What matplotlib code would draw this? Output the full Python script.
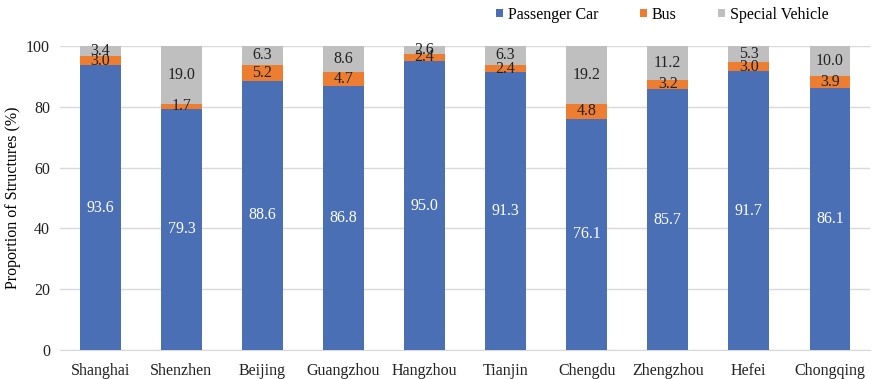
import matplotlib.pyplot as plt
import numpy as np

plt.rcParams['font.family'] = ['Liberation Serif', 'DejaVu Serif']

cities = ["Shanghai", "Shenzhen", "Beijing", "Guangzhou", "Hangzhou",
          "Tianjin", "Chengdu", "Zhengzhou", "Hefei", "Chongqing"]
passenger = [93.6, 79.3, 88.6, 86.8, 95.0, 91.3, 76.1, 85.7, 91.7, 86.1]
bus = [3.0, 1.7, 5.2, 4.7, 2.4, 2.4, 4.8, 3.2, 3.0, 3.9]
special = [3.4, 19.0, 6.3, 8.6, 2.6, 6.3, 19.2, 11.2, 5.3, 10.0]

series = [("Passenger Car", passenger, "#4A6FB5"),
          ("Bus", bus, "#ED7D31"),
          ("Special Vehicle", special, "#BFBFBF")]

fig = plt.figure(figsize=(8.8, 3.79), dpi=100)
ax = fig.add_axes([0.068, 0.0765, 0.921, 0.8025])

x = np.arange(len(cities))
bottom = np.zeros(len(cities))
for name, vals, col in series:
    vals = np.array(vals)
    ax.bar(x, vals, 0.5, bottom=bottom, color=col, label=name, zorder=3)
    for xi, b, v in zip(x, bottom, vals):
        c = "white" if name == "Passenger Car" else "#222222"
        ax.text(xi, b + v / 2, f"{v:.1f}", ha="center", va="center",
                fontsize=11.5, color=c, zorder=4)
    bottom += vals

ax.set_xlim(-0.5, len(cities) - 0.5)
ax.set_ylim(0, 100)
ax.set_yticks(range(0, 101, 20))
ax.set_xticks(x)
ax.set_xticklabels(cities)
ax.tick_params(axis="both", length=0, labelsize=11.5, colors="#222222")
ax.tick_params(axis="x", pad=9)
ax.tick_params(axis="y", pad=7)
ax.grid(axis="y", color="#D9D9D9", linewidth=1, zorder=0)
for s in ["top", "right", "left"]:
    ax.spines[s].set_visible(False)
ax.spines["bottom"].set_color("#D9D9D9")
ax.set_ylabel("Proportion of Structures (%)", fontsize=11.5, labelpad=4)

fig.legend(loc="upper right", bbox_to_anchor=(0.958, 1.02), ncol=3, frameon=False,
           fontsize=11.5, handlelength=0.45, handleheight=0.45, columnspacing=2.6,
           handletextpad=0.3)

fig.savefig("out.png", dpi=100)
